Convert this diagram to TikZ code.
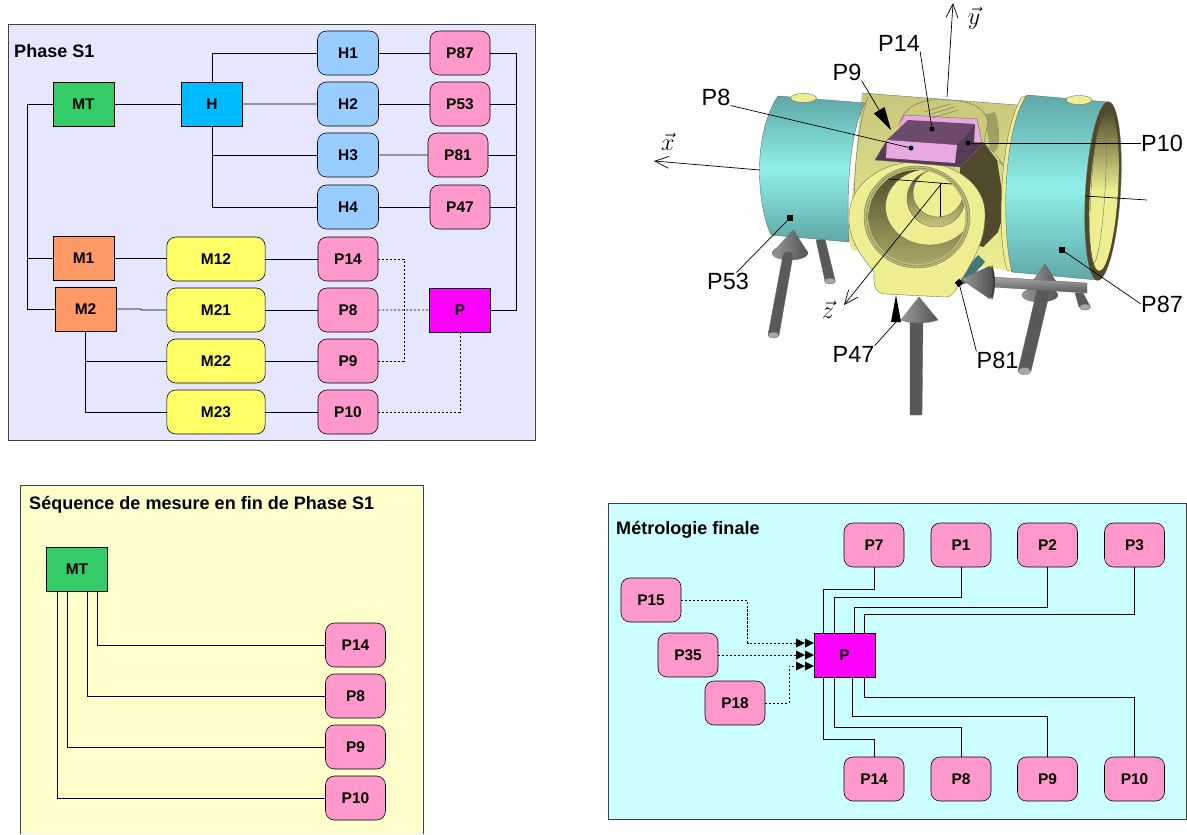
\documentclass[tikz,border=0pt]{standalone}
\usepackage{fontspec}
\setmainfont{Liberation Sans}
\usetikzlibrary{arrows.meta}
\definecolor{pinkbox}{HTML}{FF99CC}
\definecolor{bluebox}{HTML}{99CCFF}
\definecolor{yellowbox}{HTML}{FFFF66}
\definecolor{orangebox}{HTML}{FF9966}
\definecolor{greenbox}{HTML}{33CC66}
\definecolor{hubbox}{HTML}{00BBFF}
\definecolor{magbox}{HTML}{FF00FF}
\definecolor{tealmid}{HTML}{90F0E8}
\definecolor{tealdark}{HTML}{5FA8A8}
\definecolor{brass}{HTML}{EEEE90}
\definecolor{brassdark}{HTML}{4F4B2A}
\definecolor{brassmid}{HTML}{C8C67C}
\definecolor{mauve}{HTML}{E8A8E0}
\definecolor{plum}{HTML}{6B4A6B}
\definecolor{plumdark}{HTML}{573C57}
\begin{document}
\begin{tikzpicture}[
    x=0.03cm, y=-0.03cm,
    node distance=1.53cm,
    every node/.style={text=black},
    box/.style={draw=black, line width=0.5pt, minimum width=1.83cm, minimum height=1.32cm, inner sep=0pt, font=\fontsize{13.2}{15}\selectfont\bfseries},
    block/.style={box, rounded corners=0.27cm},
    pt/.style={block, fill=pinkbox, minimum width=1.8cm},
    head/.style={block, fill=bluebox},
    mill/.style={block, fill=yellowbox, minimum width=2.95cm},
    tool/.style={box, fill=orangebox},
    panel/.style={draw=black!75, line width=0.6pt},
    title/.style={inner sep=0pt, anchor=west, font=\fontsize{15.4}{18}\selectfont\bfseries},
    wire/.style={line width=0.6pt, draw=black},
    dotwire/.style={line width=0.6pt, dash pattern=on 1.8pt off 1.6pt},
    callout/.style={inner sep=0pt, font=\fontsize{20}{24}\selectfont},
    axis/.style={line width=0.6pt, -{Straight Barb[length=0.42cm,width=0.36cm]}},
    axislabel/.style={inner sep=0pt, font=\fontsize{20}{24}\selectfont},
    leader/.style={line width=0.6pt},
    dotmark/.style={circle, fill=black, inner sep=0pt, minimum size=0.15cm},
    squaremark/.style={rectangle, fill=black, inner sep=0pt, minimum size=0.18cm},
    edge3d/.style={draw=black!60, line width=0.3pt},
    rod/.style={left color=black!65, middle color=black!40, right color=black!65, draw=black!60, line width=0.3pt},
    rodcap/.style={fill=black!35, draw=black!60, line width=0.3pt},
    cone/.style={left color=black!40, right color=black!68, draw=black!60, line width=0.3pt}
  ]
    \useasboundingbox (0,0) rectangle (1187,834);

    % panel Phase S1
    \draw[panel, fill={rgb,255:red,230;green,230;blue,255}] (8,24) rectangle (535,440);
    \node[title] (sTitle) at (14,51) {Phase S1};

    \node[box, fill=greenbox] (sMT) at (83.5,104) {MT};
    \node[box, fill=hubbox] (sH) at (212,104) {H};
    \node[head] (sH1) at (348,53) {H1};
    \node[head, below of=sH1] (sH2) {H2};
    \node[head, below of=sH2] (sH3) {H3};
    \node[head] (sH4) at (348,207) {H4};
    \node[pt] (sP87) at (460,53) {P87};
    \node[pt, below of=sP87] (sP53) {P53};
    \node[pt] (sP81) at (458,155) {P81};
    \node[pt] (sP47) at (460,207) {P47};
    \node[tool] (sM1) at (83.5,258) {M1};
    \node[tool] (sM2) at (85.5,309) {M2};
    \node[mill] (sM12) at (216,259) {M12};
    \node[mill, below of=sM12] (sM21) {M21};
    \node[mill, below of=sM21] (sM22) {M22};
    \node[mill, below of=sM22] (sM23) {M23};
    \node[pt] (sP14) at (348,259) {P14};
    \node[pt, below of=sP14] (sP8) {P8};
    \node[pt, below of=sP8] (sP9) {P9};
    \node[pt, below of=sP9] (sP10) {P10};
    \node[box, fill=magbox] (sP) at (460,310) {P};
    \coordinate (busL) at (27,0);
    \coordinate (busR) at (516,0);
    \coordinate (busD) at (404,0);

    \draw[wire] (sMT) -- (sH);
    \draw[wire] (sH) -- (sH2);
    \draw[wire] (sH.north) |- (sH1.west);
    \draw[wire] (sH.south) |- (sH3.west);
    \draw[wire] (sH.south) |- (sH4.west);
    \draw[wire] (sH1) -- (sP87);
    \draw[wire] (sH2) -- (sP53);
    \draw[wire] (sH3) -- (sP81);
    \draw[wire] (sH4) -- (sP47);
    \draw[wire] (sP87.east) -- (sP87.east -| busR);
    \draw[wire] (sP53.east) -- (sP53.east -| busR);
    \draw[wire] (sP81.east) -- (sP81.east -| busR);
    \draw[wire] (sP47.east) -- (sP47.east -| busR);
    \draw[wire, line width=0.8pt] (sP.east) -- (sP.east -| busR) -- (sP87.east -| busR);
    \draw[wire] (sMT.west) -- (sMT.west -| busL) -- (sM2.west -| busL) -- (sM2.west);
    \draw[wire] (sM1.west) -- (sM1.west -| busL);
    \draw[wire] (sM1.east) -- (sM1.east -| sM12.west);
    \draw[wire] (sM2.east) -- (141,309) -- (141,310) -- (sM21.west);
    \draw[wire] (sM2.south) |- (sM22.west);
    \draw[wire] (sM2.south) |- (sM23.west);
    \draw[wire] (sM12) -- (sP14);
    \draw[wire] (sM21) -- (sP8);
    \draw[wire] (sM22) -- (sP9);
    \draw[wire] (sM23) -- (sP10);
    \draw[dotwire] (sP14.east) -- (sP14.east -| busD) -- (sP9.east -| busD) -- (sP9.east);
    \draw[dotwire] (sP8) -- (sP);
    \draw[dotwire] (sP10.east) -| (sP.south);

    % panel mesure
    \fill[fill={rgb,255:red,255;green,255;blue,204}] (20,485) rectangle (423,834);
    \draw[panel] (20,834) -- (20,485) -- (423,485) -- (423,834);
    \node[title] (qTitle) at (29,505) {Séquence de mesure en fin de Phase S1};

    \node[box, fill=greenbox] (qMT) at (77,569) {MT};
    \node[pt] (qP14) at (355.5,645) {P14};
    \node[pt, below of=qP14] (qP8) {P8};
    \node[pt, below of=qP8] (qP9) {P9};
    \node[pt, below of=qP9] (qP10) {P10};

    \draw[wire] (qMT.south -| 97,0) |- (qP14.west);
    \draw[wire] (qMT.south -| 87,0) |- (qP8.west);
    \draw[wire] (qMT.south -| 67,0) |- (qP9.west);
    \draw[wire] (qMT.south -| 57,0) |- (qP10.west);

    % panel finale
    \draw[panel, fill={rgb,255:red,204;green,255;blue,255}] (608,503) rectangle (1186,819);
    \node[title] (mTitle) at (616,530) {Métrologie finale};

    \node[box, fill=magbox] (mP) at (844.5,655) {P};
    \node[pt] (mP7) at (874,545) {P7};
    \node[pt] (mP1) at (961,545) {P1};
    \node[pt] (mP2) at (1047.5,545) {P2};
    \node[pt] (mP3) at (1134.5,545) {P3};
    \node[pt] (mP14) at (874,779) {P14};
    \node[pt] (mP8) at (961,779) {P8};
    \node[pt] (mP9) at (1047.5,779) {P9};
    \node[pt] (mP10) at (1134.5,779) {P10};
    \node[pt] (mP15) at (651,600) {P15};
    \node[pt] (mP35) at (688,655) {P35};
    \node[pt] (mP18) at (735,703) {P18};

    \draw[wire] (mP7.south) |- (823,589) -- (mP.north -| 823,0);
    \draw[wire] (mP1.south) |- (834,597) -- (mP.north -| 834,0);
    \draw[wire] (mP2.south) |- (854,607) -- (mP.north -| 854,0);
    \draw[wire] (mP3.south) |- (864,614) -- (mP.north -| 864,0);
    \draw[wire] (mP14.north) |- (823,739) -- (mP.south -| 823,0);
    \draw[wire] (mP8.north) |- (834,727) -- (mP.south -| 834,0);
    \draw[wire] (mP9.north) |- (852,716) -- (mP.south -| 852,0);
    \draw[wire] (mP10.north) |- (864,697) -- (mP.south -| 864,0);
    \draw[dotwire] (mP15.east) -- (747.5,600) -- (747.5,643) -- (796,643);
    \draw[dotwire] (mP35.east) -- (796,655);
    \draw[dotwire] (mP18.east) -- (789,703) -- (789,666) -- (796,666);
    \foreach \ya in {643,655,666} {
      \fill[black] (796,\ya-4.5) -- (805,\ya) -- (796,\ya+4.5) -- cycle;
      \fill[black] (805,\ya-4.5) -- (814,\ya) -- (805,\ya+4.5) -- cycle;
    }

    % piece 3D
    \shade[rod] (816,240) -- (825,239) -- (835,280) -- (825,281) -- cycle;
    \draw[rodcap] (830,281) ellipse (5.5 and 3);
    \shade[rod] (1075,293) -- (1083,293) -- (1090,306) -- (1079,307) -- cycle;
    \draw[rodcap] (1085,307) ellipse (5.5 and 3);

    \shade[top color=brassmid, bottom color=brass] (862,93) -- (1030,106) -- (1020,272) -- (852,250) -- (848,238) -- cycle;
    \draw[edge3d] (862,93) -- (1030,106);
    \draw[edge3d] (868,97) .. controls (856,130) and (852,190) .. (855,246);
    \fill[brassdark, opacity=0.35] (995,112) .. controls (1002,130) and (1000,160) .. (990,150) -- (985,115) -- cycle;
    \draw[edge3d, fill=brass!85!black] (900,122) .. controls (905,105) and (925,98) .. (945,100) .. controls (965,100) and (985,105) .. (988,122) -- (984,143) -- (900,125) -- cycle;

    \shade[edge3d, top color=tealdark, bottom color=tealdark, middle color=tealmid] (778,96) -- (865,103) .. controls (850,130) and (846,190) .. (849,242) -- (771,235) .. controls (757,205) and (752,135) .. (778,96) -- cycle;
    \draw[edge3d, fill=brass] (803.5,98) ellipse (13 and 4.5);

    \fill[brassdark] (960,167) -- (984,143) -- (997,160) -- (1005,210) -- (998,232) -- (983,247) -- (960,240) -- cycle;
    \draw[edge3d, fill=brass] (984,143) .. controls (990,148) and (1000,160) .. (1003,165) -- (997,160) -- cycle;

    \draw[edge3d, fill=brass] (1022,97) .. controls (1000,130) and (996,235) .. (1007,270) -- (1014,272) -- (1027,96) -- cycle;
    \shade[edge3d, top color=tealdark, bottom color=tealdark, middle color=tealmid] (1027,95) -- (1108,102) -- (1097,280) -- (1012,272) .. controls (1002,235) and (1002,130) .. (1027,95) -- cycle;
    \draw[edge3d, fill=brass] (1079,100) ellipse (13 and 4.5);
    \draw[edge3d, fill=brassdark, rotate around={-3.5:(1103,191)}] (1103,191) ellipse (17.5 and 89.5);
    \shade[top color=brassdark, bottom color=brass, middle color=brass, rotate around={-3.5:(1104,191)}] (1104,191) ellipse (14 and 80);
    \draw[edge3d, rotate around={-3.5:(1098,191)}] (1098,191) ellipse (7 and 72);

    \fill[tealdark!70!black] (955,282) -- (978,255) -- (985,262) -- (965,284) -- cycle;
    \draw[edge3d, fill=brass] (874,272) .. controls (856,250) and (848,235) .. (849,215) .. controls (850,185) and (880,162) .. (917,162) .. controls (955,162) and (986,185) .. (985,215) .. controls (985,240) and (975,258) .. (960,282) .. controls (955,292) and (952,297) .. (945,297) -- (885,294) .. controls (876,293) and (873,288) .. (874,272) -- cycle;
    \draw[edge3d, fill=brass!80!black] (917,217) ellipse (53 and 51);
    \draw[edge3d] (917,217) ellipse (50.5 and 49);
    \begin{scope}
      \clip (917,217) ellipse (48.5 and 47);
      \shade[top color=brassdark, middle color=brassdark, bottom color=brassmid!75!brassdark] (868,170) rectangle (966,264);
      \draw[edge3d, fill=brass] (929.5,207) ellipse (44 and 38);
      \shade[edge3d, top color=brassdark, middle color=brassdark, bottom color=brassmid] (936,198.5) ellipse (29 and 28.5);
      \draw[edge3d, fill=brass] (938,193) ellipse (25 and 24);
    \end{scope}

    \draw[edge3d, fill=mauve] (900,122) -- (905,115) -- (977,119) -- (982,143) -- (900,130) -- cycle;
    \draw[edge3d, fill=plumdark] (875,160) -- (887,140) -- (984,143) -- (960,167) -- cycle;
    \fill[plum] (887,140) -- (908,120) -- (975,124) -- (957,145) -- cycle;
    \fill[plumdark] (957,145) -- (975,124) -- (974,143) -- (955,163) -- cycle;
    \fill[mauve] (887,140) -- (957,145) -- (955,163) -- (886,158) -- cycle;
    \draw[edge3d] (924,112) -- (950,104) (928,115) -- (954,107) (932,118) -- (958,110);

    \draw[line width=0.6pt] (888,179) -- (952,184);
    \draw[line width=0.6pt] (940.7,183) -- (940.7,217);

    \draw[cone] (790,253) ellipse (18 and 7);
    \shade[cone] (793.5,230) -- (808,253) -- (772,253) -- cycle;
    \shade[rod] (783,255) .. controls (785,251) and (791,251) .. (793,255) -- (779,335) -- (768,335) -- cycle;
    \draw[rodcap] (773.5,335) ellipse (5.5 and 3);

    \shade[rod] (910,320) -- (923,320) -- (922,415) -- (910,415) -- cycle;
    \shade[cone] (919,297) -- (938,320) .. controls (925,324) and (912,324) .. (901,320) -- cycle;

    \draw[cone] (1040,295) ellipse (18 and 7);
    \shade[cone] (1045,264) -- (1060,288) -- (1028,288) -- cycle;
    \shade[rod, left color=black!45, middle color=black!45, right color=black!45, top color=black!35, bottom color=black!65] (992,277) -- (1087,283) -- (1087,293) -- (992,287) -- cycle;
    \shade[rod] (1037,290) -- (1050,291) -- (1031,371) -- (1018,371) -- cycle;
    \draw[rodcap] (1024.5,371) ellipse (6.5 and 3.5);
    \fill[black!75] (992,265) .. controls (996,275) and (996,290) .. (992,300) .. controls (988,290) and (988,275) .. (992,265) -- cycle;
    \shade[cone] (961,279) -- (990,266) .. controls (993,275) and (993,290) .. (990,299) -- cycle;

    \node[axislabel] (xLabel) at (668,142) {$\vec{x}$};
    \node[axislabel] (yLabel) at (974,18) {$\vec{y}$};
    \node[axislabel] (zLabel) at (828,310) {$\vec{z}$};
    \coordinate (xStart) at (760,170);
    \coordinate (xEnd) at (654,161);
    \coordinate (yStart) at (947,97);
    \coordinate (yEnd) at (953,3);
    \coordinate (zStart) at (942,183);
    \coordinate (zEnd) at (844,305);
    \coordinate (xBack) at (1147,200);
    \coordinate (xFront) at (1085,196);
    \draw[axis] (xStart) -- (xEnd);
    \draw[axis] (yStart) -- (yEnd);
    \draw[axis] (zStart) -- (zEnd);
    \draw[leader] (xFront) -- (xBack);

    \node[callout] (l14) at (899,43) {P14};
    \node[callout] (l9) at (847,72) {P9};
    \node[callout] (l8) at (716,97) {P8};
    \node[callout] (l10) at (1162,143) {P10};
    \node[callout] (l53) at (728,281) {P53};
    \node[callout] (l47) at (853.5,354) {P47};
    \node[callout] (l81) at (997.5,360) {P81};
    \node[callout] (l87) at (1162,304) {P87};

    \node[dotmark] (d14) at (932,129) {};
    \node[dotmark] (d8) at (911,148) {};
    \node[dotmark] (d10) at (968,143) {};
    \node[squaremark] (d53) at (790,218) {};
    \node[squaremark] (d87) at (1062,250) {};
    \node[squaremark, rotate=40] (d81) at (959,283) {};
    \coordinate (d9) at (891,130);
    \coordinate (d47) at (896,322);

    \draw[leader] (l14.south east) -- (d14);
    \draw[leader] (l8.south east) -- (d8);
    \draw[leader] (l10.west) -- (d10);
    \draw[leader] (l53) -- (d53);
    \draw[leader] (l87.west) -- (d87);
    \draw[leader] (l81.north west) -- (d81);
    \draw[leader, -{Triangle[length=0.69cm,width=0.36cm]}] (l9.south east) -- (d9);
    \draw[leader] (l47.north east) -- (d47);
    \fill[black] (896,295) -- (901,322) -- (891,322) -- cycle;
  \end{tikzpicture}
\end{document}
